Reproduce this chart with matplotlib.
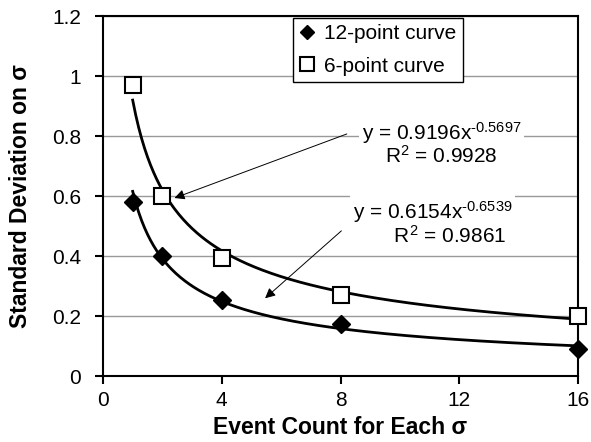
import numpy as np
from matplotlib import pyplot as plt

plt.rcParams['font.family'] = ['Liberation Sans', 'DejaVu Sans']
plt.rcParams['mathtext.fontset'] = 'custom'
plt.rcParams['mathtext.rm'] = 'Liberation Sans'
plt.rcParams['mathtext.it'] = 'Liberation Sans'

# 数据
events = [1, 2, 4, 8, 16]
sd_12 = [0.58, 0.40, 0.255, 0.175, 0.09]
sd_6 = [0.97, 0.60, 0.395, 0.27, 0.20]

# 幂函数拟合系数 (图中标注)
fit_12 = (0.6154, -0.6539, 0.9861)
fit_6 = (0.9196, -0.5697, 0.9928)

fig = plt.figure(figsize=(5.91, 4.42), dpi=100)
ax = fig.add_axes([103 / 591, 66 / 442, 475 / 591, 360 / 442])

xs = np.linspace(1, 16, 300)
ax.plot(xs, fit_6[0] * xs ** fit_6[1], color='black', lw=2, zorder=3)
ax.plot(xs, fit_12[0] * xs ** fit_12[1], color='black', lw=2, zorder=3)

ax.plot(events, sd_12, 'D', color='black', ms=9, label='12-point curve', zorder=4, clip_on=False)
ax.plot(events, sd_6, 's', mfc='white', mec='black', mew=1.5, ms=12, label='6-point curve', zorder=4, clip_on=False)

ax.set_xlim(0, 16)
ax.set_ylim(0, 1.2)
ax.set_xticks([0, 4, 8, 12, 16])
ax.set_yticks([0, 0.2, 0.4, 0.6, 0.8, 1.0, 1.2])
ax.set_yticklabels(['0', '0.2', '0.4', '0.6', '0.8', '1', '1.2'])
ax.yaxis.grid(True, color='#999999', lw=1)
ax.set_axisbelow(True)
ax.tick_params(labelsize=15, direction='out', length=6, width=1.5)
ax.tick_params(axis='y', pad=10)
ax.tick_params(axis='x', pad=5)
for s in ax.spines.values():
    s.set_linewidth(1.5)

ax.set_xlabel('Event Count for Each σ', fontsize=16.5, fontweight='bold', labelpad=4)
ax.set_ylabel('Standard Deviation on σ', fontsize=16.5, fontweight='bold', labelpad=14)

# 趋势线标注
box = dict(facecolor='white', edgecolor='none', pad=2)
ax.annotate('', xy=(2.32, 0.59), xytext=(8.3, 0.81),
            arrowprops=dict(arrowstyle='-|>', color='black', lw=0.7, mutation_scale=15))
ax.annotate('', xy=(5.39, 0.253), xytext=(8.1, 0.49),
            arrowprops=dict(arrowstyle='-|>', color='black', lw=0.7, mutation_scale=15))
ax.text(11.4, 0.775, 'y = %.4fx$^{%s}$\nR$^2$ = %.4f' % (fit_6[0], '\u2010' + str(-fit_6[1]), fit_6[2]),
        fontsize=15, ha='center', va='center', multialignment='center', bbox=box, linespacing=0.95, zorder=5)
ax.text(11.1, 0.51, 'y = %.4fx$^{%s}$\n      R$^2$ = %.4f' % (fit_12[0], '\u2010' + str(-fit_12[1]), fit_12[2]),
        fontsize=15, ha='center', va='center', multialignment='center', bbox=box, linespacing=0.95, zorder=5)

ax.legend(loc='upper left', bbox_to_anchor=(190 / 475, 0.995), borderaxespad=0, fontsize=15,
          frameon=True, fancybox=False, edgecolor='black', handlelength=0.7, handletextpad=0.5,
          borderpad=0.3, labelspacing=0.65, framealpha=1, markerscale=0.8)

fig.savefig('out.png', dpi=100)
